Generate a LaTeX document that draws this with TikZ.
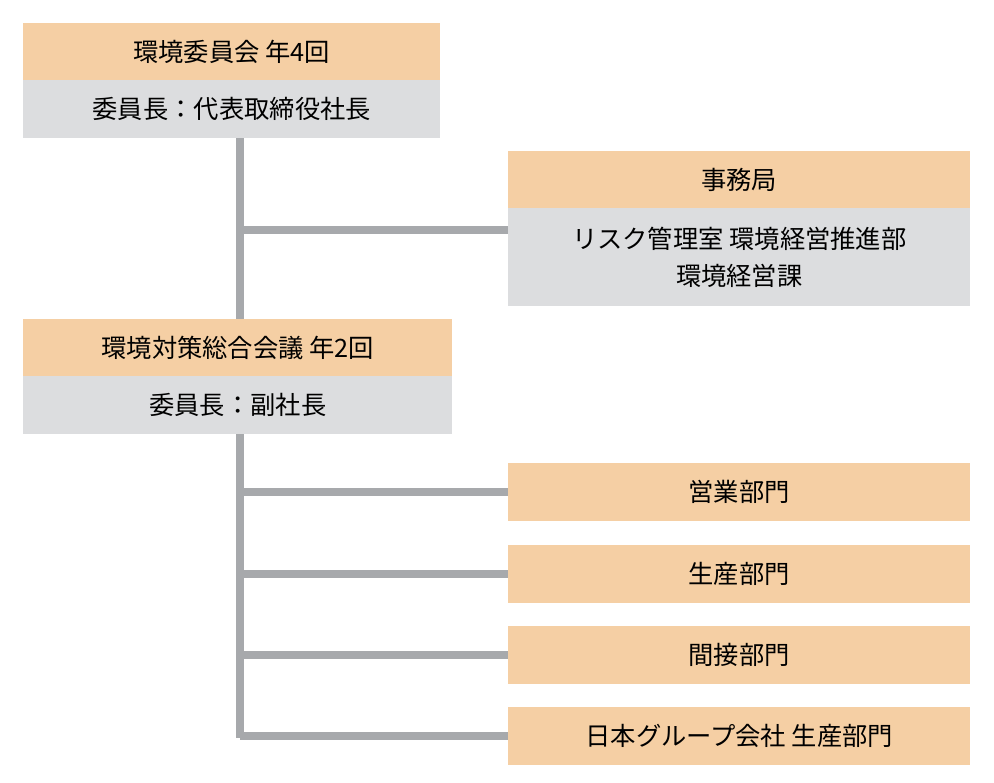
\documentclass[tikz,border=0pt]{standalone}
\usepackage{fontspec}
\newfontfamily\jp{Noto Sans CJK JP}
\definecolor{peach}{HTML}{F5CFA4}
\definecolor{pale}{HTML}{DCDDDF}
\definecolor{wire}{HTML}{A7A9AC}
\tikzset{
    head/.style={fill=peach, anchor=north west, inner sep=0pt},
    body/.style={fill=pale, anchor=north west, inner sep=0pt, align=center},
    wireline/.style={draw=wire, line width=2mm}
}
\begin{document}
\begin{tikzpicture}[x=0.0264cm, y=-0.0264cm, font=\jp\fontsize{19}{28}\selectfont]
    \useasboundingbox (0,0) rectangle (994,783);

    % left column
    \node[head, minimum width=417*0.0264cm, minimum height=57*0.0264cm] (iinkai) at (23,23) {環境委員会 年4回};
    \node[body, minimum width=417*0.0264cm, minimum height=58*0.0264cm] (iinkaichou) at (23,80) {委員長：代表取締役社長};
    \node[head, minimum width=429*0.0264cm, minimum height=57*0.0264cm] (kaigi) at (23,319) {環境対策総合会議 年2回};
    \node[body, minimum width=429*0.0264cm, minimum height=58*0.0264cm] (kaigichou) at (23,376) {委員長：副社長};

    % right column
    \node[head, minimum width=462*0.0264cm, minimum height=57*0.0264cm] (jimu) at (508,151) {事務局};
    \node[body, minimum width=462*0.0264cm, minimum height=98*0.0264cm] (jimubody) at (508,208) {リスク管理室 環境経営推進部\\環境経営課};
    \foreach \y/\name/\txt in {463/eigyou/営業部門, 545/seisan/生産部門, 626/kansetsu/間接部門, 707/group/日本グループ会社 生産部門}
        \node[head, minimum width=462*0.0264cm, minimum height=58*0.0264cm] (\name) at (508,\y) {\txt};

    % connectors
    \coordinate (spineA) at (240,138);
    \coordinate (spineB) at (240,434);
    \coordinate (spineEnd) at (240,738);
    \draw[wireline] (spineA) -- (spineA |- kaigi.north);
    \draw[wireline] (240,230) -- (jimubody.west |- 0,230);
    \draw[wireline] (spineB) -- (spineEnd);
    \foreach \name in {eigyou, seisan, kansetsu, group}
        \draw[wireline] (spineB |- \name.west) -- (\name.west);
\end{tikzpicture}
\end{document}
